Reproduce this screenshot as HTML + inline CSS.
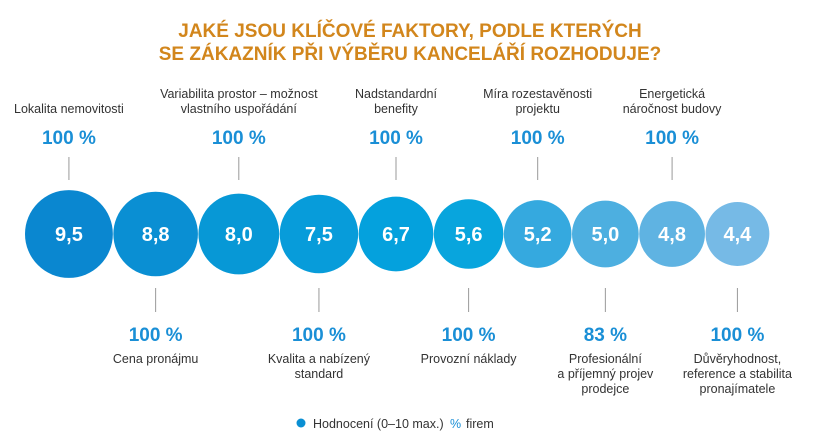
<!DOCTYPE html>
<html><head><meta charset="utf-8"><style>
html,body{margin:0;padding:0;background:#fff;width:813px;height:447px;overflow:hidden}
svg{display:block;font-family:"Liberation Sans Narrow","Liberation Sans",sans-serif}
</style></head><body>
<svg id="chart" width="813" height="447" viewBox="0 0 813 447">
<text x="410" y="37" text-anchor="middle" font-size="19" font-weight="bold" fill="#d2861c">JAKÉ JSOU KLÍČOVÉ FAKTORY, PODLE KTERÝCH</text>
<text x="410" y="60" text-anchor="middle" font-size="19" font-weight="bold" fill="#d2861c">SE ZÁKAZNÍK PŘI VÝBĚRU KANCELÁŘÍ ROZHODUJE?</text>
<g id="marks"></g>
<circle cx="301" cy="423" r="4.5" fill="#0a8fd3"/>
<text x="313" y="428" font-size="12.5" fill="#333">Hodnocení (0–10 max.)</text>
<text x="450" y="428" font-size="12.5" fill="#1a8fd6">%</text>
<text x="466" y="428" font-size="12.5" fill="#333">firem</text>
</svg>
<script>
const categories = [
 ["Lokalita nemovitosti"],
 ["Cena pronájmu"],
 ["Variabilita prostor – možnost","vlastního uspořádání"],
 ["Kvalita a nabízený","standard"],
 ["Nadstandardní","benefity"],
 ["Provozní náklady"],
 ["Míra rozestavěnosti","projektu"],
 ["Profesionální","a příjemný projev","prodejce"],
 ["Energetická","náročnost budovy"],
 ["Důvěryhodnost,","reference a stabilita","pronajímatele"]
];
const ratings = [9.5, 8.8, 8.0, 7.5, 6.7, 5.6, 5.2, 5.0, 4.8, 4.4];
const percents = [100, 100, 100, 100, 100, 100, 100, 83, 100, 100];
const ratingLabels = ["9,5","8,8","8,0","7,5","6,7","5,6","5,2","5,0","4,8","4,4"];
const colors = ["#0a87d0","#0a8fd3","#0798d6","#079cda","#04a1dd","#08a5dd","#35a9df","#4dafe0","#5fb3e2","#76bae6"];

const NS = "http://www.w3.org/2000/svg";
const g = document.getElementById("marks");
function rScale(v){ return 21.6 + 2.35 * v; }
function mk(tag, attrs){ const e = document.createElementNS(NS, tag); for (const k in attrs) e.setAttribute(k, attrs[k]); g.appendChild(e); return e; }
const cy = 234;
let x = 25;
ratings.forEach((v, i) => {
  const r = rScale(v);
  const cx = x + r;
  x = cx + r + 0.5;
  const c = mk("circle", {cx: cx, cy: cy, r: r, fill: colors[i]});
  
  
  const t = mk("text", {x: cx, y: cy + 7, "text-anchor": "middle", "font-size": 20, "font-weight": "bold", fill: "#fff", "font-family": "Liberation Sans, sans-serif"});
  t.textContent = ratingLabels[i];
  
  
  const top = i % 2 === 0;
  const ln = mk("line", {x1: cx, x2: cx, y1: top ? 157 : 288, y2: top ? 180 : 312, stroke: "#999", "stroke-width": 1});
  
  
  const p = mk("text", {x: cx, y: top ? 144 : 341, "text-anchor": "middle", "font-size": 19, "font-weight": "bold", fill: "#1a8fd6"});
  p.textContent = percents[i] + " %";
  
  
  const lines = categories[i];
  const baseY = top ? (113 - (lines.length - 1) * 15) : 363;
  lines.forEach((s, j) => {
    const lt = mk("text", {x: cx, y: baseY + j * 15, "text-anchor": "middle", "font-size": 12.5, fill: "#333"});
    lt.textContent = s;
    
    
  });
});
</script>
</body></html>
